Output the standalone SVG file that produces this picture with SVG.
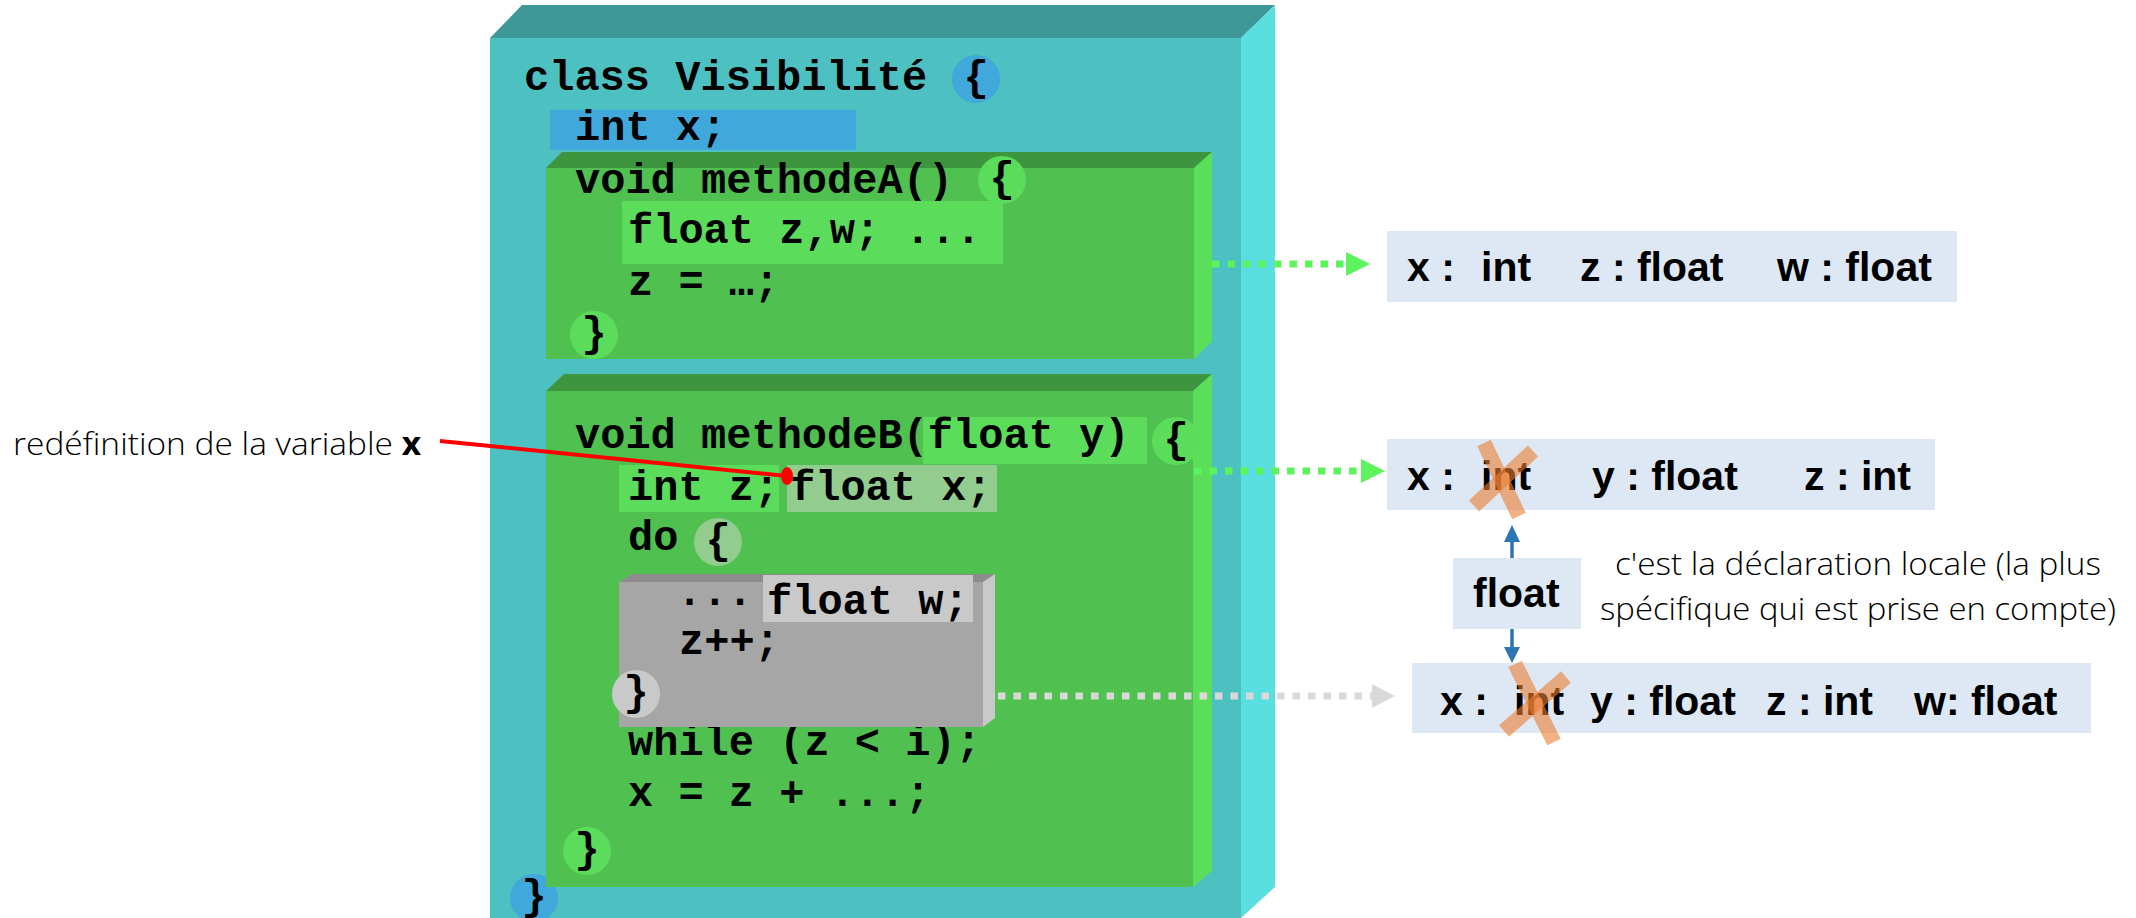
<svg xmlns="http://www.w3.org/2000/svg" width="2136" height="918" viewBox="0 0 2136 918">
  <style>
    .code { font-family: "Liberation Mono", "Courier New", monospace; font-weight: bold; font-size: 42px; fill: #000; }
    .brace { font-family: "Liberation Mono", "Courier New", monospace; font-weight: bold; font-size: 42px; fill: #000; text-anchor: middle; }
    .scope { font-family: "Liberation Sans", Arial, sans-serif; font-weight: bold; font-size: 41px; fill: #000; }
    .note { font-family: "Open Sans", Lato, sans-serif; font-weight: 300; font-size: 32px; fill: #000; }
    .scopebox { fill: #DDE8F4; }
    .cross { stroke: #ED7D31; stroke-opacity: 0.6; stroke-width: 15; fill: none; }
    .gfront { fill: #50C150; }
    .gtop { fill: #3D963D; }
    .gside { fill: #5BDF5B; }
    .hl-green { fill: #5BDD5B; }
    .hl-pale { fill: #93CC8F; }
    .hl-grey { fill: #C9C9C9; }
    .hl-blue { fill: #41A8DB; }
    .dot-green { stroke: #5DF35D; stroke-width: 7; stroke-dasharray: 7.5 8; fill: none; }
    .dot-grey { stroke: #D9D9D9; stroke-width: 7; stroke-dasharray: 7.5 8; fill: none; }
  </style>

  <rect width="2136" height="918" fill="#FFFFFF"/>

  <!-- Outer class box -->
  <g id="class-visibilite">
    <rect x="490" y="38" width="751" height="880" fill="#4DC1C1"/>
    <polygon points="490,38 522,5 1275,5 1241,38" fill="#3E9898"/>
    <polygon points="1241,38 1275,5 1275,887 1241,918" fill="#59DFDF"/>
    <text class="code" x="524" y="90">class Visibilité</text>
    <ellipse class="hl-blue" cx="976" cy="79" rx="24" ry="24"/>
    <text class="brace" x="976" y="90">{</text>
    <rect class="hl-blue" x="550" y="110" width="306" height="40"/>
    <text class="code" x="575" y="140">int x;</text>
    <ellipse class="hl-blue" cx="534" cy="898" rx="24" ry="24"/>
    <text class="brace" x="534" y="909">}</text>
  </g>

  <!-- methodeA -->
  <g id="methodeA">
    <rect class="gfront" x="546" y="168" width="648" height="191"/>
    <polygon class="gtop" points="546,168 562,152 1212,152 1194,168"/>
    <polygon class="gside" points="1194,168 1212,152 1212,341 1194,359"/>
    <text class="code" x="575" y="193">void methodeA()</text>
    <ellipse class="hl-green" cx="1002" cy="180" rx="24" ry="24"/>
    <text class="brace" x="1002" y="191">{</text>
    <rect class="hl-green" x="622" y="201" width="381" height="63"/>
    <text class="code" x="628" y="243">float z,w; ...</text>
    <text class="code" x="628" y="295">z = …;</text>
    <ellipse class="hl-green" cx="594" cy="335" rx="24" ry="24"/>
    <text class="brace" x="594" y="346">}</text>
  </g>

  <!-- methodeB -->
  <g id="methodeB">
    <rect class="gfront" x="546" y="391" width="647" height="496"/>
    <polygon class="gtop" points="546,391 564,374 1212,374 1193,391"/>
    <polygon class="gside" points="1193,391 1212,374 1212,871 1193,887"/>
    <rect class="hl-green" x="923" y="417" width="224" height="47"/>
    <text class="code" x="575" y="448">void methodeB(float y)</text>
    <ellipse class="hl-green" cx="1176" cy="441" rx="24" ry="24"/>
    <text class="brace" x="1176" y="452">{</text>
    <rect class="hl-green" x="619" y="465" width="160" height="47"/>
    <rect class="hl-pale" x="787" y="465" width="210" height="47"/>
    <text class="code" x="628" y="500">int z;</text>
    <text class="code" x="790" y="500">float x;</text>
    <text class="code" x="628" y="550">do</text>
    <ellipse class="hl-pale" cx="718" cy="542" rx="24" ry="24"/>
    <text class="brace" x="718" y="553">{</text>
    <text class="code" x="628" y="755">while (z &lt; i);</text>
    <text class="code" x="628" y="806">x = z + ...;</text>
    <ellipse class="hl-green" cx="587" cy="851" rx="24" ry="24"/>
    <text class="brace" x="587" y="862">}</text>
  </g>

  <!-- do block -->
  <g id="do-block">
    <rect x="619" y="582" width="364" height="145" fill="#A6A6A6"/>
    <polygon points="619,582 632,574 995,574 983,582" fill="#8C8C8C"/>
    <polygon points="983,582 995,574 995,718 983,727" fill="#C9C9C9"/>
    <rect class="hl-grey" x="763" y="575" width="210" height="47"/>
    <text class="code" x="677" y="614">···</text>
    <text class="code" x="767" y="614">float w;</text>
    <text class="code" x="679" y="654">z++;</text>
    <ellipse cx="636" cy="694" rx="24" ry="24" fill="#C9C9C9"/>
    <text class="brace" x="636" y="705">}</text>
  </g>

  <!-- Scope result boxes -->
  <g id="scope-methodeA">
    <rect class="scopebox" x="1387" y="231" width="570" height="71"/>
    <text class="scope" y="281"><tspan x="1407">x :</tspan><tspan x="1481">int</tspan><tspan x="1580">z : float</tspan><tspan x="1777">w : float</tspan></text>
  </g>

  <g id="scope-methodeB">
    <rect class="scopebox" x="1387" y="439" width="548" height="71"/>
    <text class="scope" y="490"><tspan x="1407">x :</tspan><tspan x="1481">int</tspan><tspan x="1592">y : float</tspan><tspan x="1804">z : int</tspan></text>
    <line class="cross" x1="1484" y1="443" x2="1519" y2="516"/>
    <line class="cross" x1="1533" y1="451" x2="1474" y2="506"/>
  </g>

  <g id="scope-do">
    <rect class="scopebox" x="1412" y="663" width="679" height="70"/>
    <text class="scope" y="715"><tspan x="1440">x :</tspan><tspan x="1514">int</tspan><tspan x="1590">y : float</tspan><tspan x="1766">z : int</tspan><tspan x="1914">w: float</tspan></text>
    <line class="cross" x1="1515" y1="664" x2="1554" y2="742"/>
    <line class="cross" x1="1566" y1="677" x2="1504" y2="731"/>
  </g>

  <g id="float-box">
    <rect class="scopebox" x="1453" y="558" width="128" height="71"/>
    <text class="scope" x="1473" y="607">float</text>
  </g>

  <g id="comment">
    <text class="note" x="1858" y="575" text-anchor="middle" textLength="486" lengthAdjust="spacingAndGlyphs">c'est la déclaration locale (la plus</text>
    <text class="note" x="1858" y="620" text-anchor="middle" textLength="516" lengthAdjust="spacingAndGlyphs">spécifique qui est prise en compte)</text>
  </g>

  <g id="label-redefinition">
    <text class="note" x="13" y="455" font-size="33" textLength="408" lengthAdjust="spacingAndGlyphs">redéfinition de la variable <tspan font-weight="bold">x</tspan></text>
  </g>

  <!-- Connectors -->
  <g id="connectors">
    <line class="dot-green" x1="1212" y1="264" x2="1348" y2="264"/>
    <polygon points="1346,252 1370,264 1346,276" fill="#5DF35D"/>
    <line class="dot-green" x1="1194" y1="471" x2="1363" y2="471"/>
    <polygon points="1361,459 1385,471 1361,483" fill="#5DF35D"/>
    <line class="dot-grey" x1="998" y1="696" x2="1374" y2="696"/>
    <polygon points="1372,684 1395,696 1372,708" fill="#D9D9D9"/>
    <line x1="1512" y1="558" x2="1512" y2="540" stroke="#2E75B6" stroke-width="3.5"/>
    <polygon points="1504,542 1512,525 1520,542" fill="#2E75B6"/>
    <line x1="1512" y1="629" x2="1512" y2="649" stroke="#2E75B6" stroke-width="3.5"/>
    <polygon points="1504,647 1512,663 1520,647" fill="#2E75B6"/>
    <line x1="440" y1="441" x2="787" y2="476" stroke="#FF0000" stroke-width="4"/>
    <ellipse cx="787" cy="476" rx="6" ry="9" fill="#FF0000"/>
  </g>
</svg>
